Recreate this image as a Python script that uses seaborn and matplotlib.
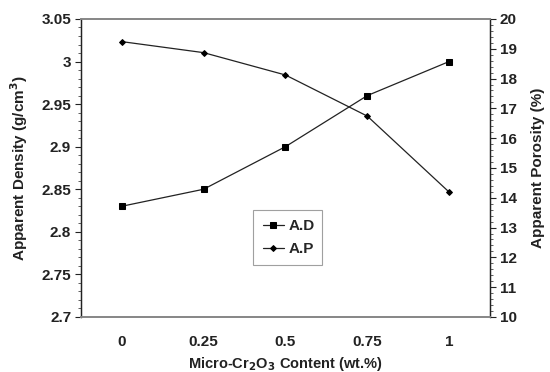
import matplotlib
matplotlib.use("Agg")
import matplotlib.pyplot as plt
import seaborn as sns
import pandas as pd
import numpy as np
from matplotlib.ticker import MultipleLocator, FixedLocator

categories = ["0", "0.25", "0.5", "0.75", "1"]
apparent_density = [2.83, 2.85, 2.90, 2.96, 3.00]
apparent_porosity = [19.24, 18.87, 18.12, 16.74, 14.19]

sns.set_theme(style="white")
plt.rcParams['font.family'] = ['Liberation Sans', 'DejaVu Sans']
plt.rcParams['font.weight'] = 'bold'

df = pd.DataFrame({"pos": np.arange(len(categories)),
                   "AD": apparent_density, "AP": apparent_porosity})

fig = plt.figure(figsize=(5.5, 3.72), dpi=100)
ax = fig.add_axes([0.147, 0.148, 0.744, 0.801])
ax2 = ax.twinx()

sns.lineplot(data=df, x="pos", y="AD", ax=ax, color="#222222", lw=0.9,
             marker="s", markersize=4.2, markeredgecolor="black",
             markerfacecolor="black", label="A.D", legend=False)
sns.lineplot(data=df, x="pos", y="AP", ax=ax2, color="#222222", lw=0.9,
             marker="D", markersize=3.0, markeredgecolor="black",
             markerfacecolor="black", label="A.P", legend=False)

ax.set_xlim(-0.5, len(categories) - 0.5)
ax.set_ylim(2.7, 3.05)
ax2.set_ylim(10, 20)

ax.set_xticks(np.arange(len(categories)))
ax.set_xticklabels(categories)
ax.xaxis.set_minor_locator(FixedLocator(np.arange(-0.5, len(categories), 1.0)))
ax.set_yticks(np.arange(2.7, 3.051, 0.05))
ax.set_yticklabels(["2.7", "2.75", "2.8", "2.85", "2.9", "2.95", "3", "3.05"])
ax.yaxis.set_minor_locator(MultipleLocator(0.01))
ax2.set_yticks(np.arange(10, 20.1, 1))
ax2.yaxis.set_minor_locator(MultipleLocator(0.2))

for a in (ax, ax2):
    a.tick_params(axis="both", which="major", direction="out", length=4,
                  width=0.8, colors="#222222", labelsize=11)
    a.tick_params(axis="both", which="minor", direction="out", length=2.5,
                  width=0.6, colors="#444444")
ax.tick_params(axis="y", which="major", pad=3)
ax2.tick_params(axis="y", which="major", pad=3)
ax.tick_params(axis="x", which="major", pad=9)
for lab in ax.get_xticklabels() + ax.get_yticklabels() + ax2.get_yticklabels():
    lab.set_fontweight("bold")
    lab.set_color("#222222")

for a in (ax, ax2):
    for s in ["left", "right"]:
        a.spines[s].set_color("#222222")
        a.spines[s].set_linewidth(0.9)
    for s in ["top", "bottom"]:
        a.spines[s].set_color("#888888")
        a.spines[s].set_linewidth(1.3)

ax.set_xlabel("Micro-Cr$_\\mathbf{2}$O$_\\mathbf{3}$ Content (wt.%)", fontsize=10.5,
              fontweight="bold", labelpad=4, color="#222222")
ax.set_ylabel("Apparent Density (g/cm$^\\mathbf{3}$)", fontsize=11,
              fontweight="bold", labelpad=8, color="#222222")
ax2.set_ylabel("Apparent Porosity (%)", fontsize=11, fontweight="bold",
               labelpad=10, color="#222222")

h1, l1 = ax.get_legend_handles_labels()
h2, l2 = ax2.get_legend_handles_labels()
leg = fig.legend(h1 + h2, l1 + l2, loc="lower left",
                 bbox_to_anchor=(0.447, 0.266, 0.153, 0.143), mode="expand",
                 fancybox=False, frameon=True, edgecolor="#888888",
                 prop={"weight": "bold", "size": 11}, handlelength=1.4,
                 handletextpad=0.3, borderpad=0.6, labelspacing=0.6)
leg.get_frame().set_linewidth(0.8)

fig.savefig("out.png", dpi=100)
